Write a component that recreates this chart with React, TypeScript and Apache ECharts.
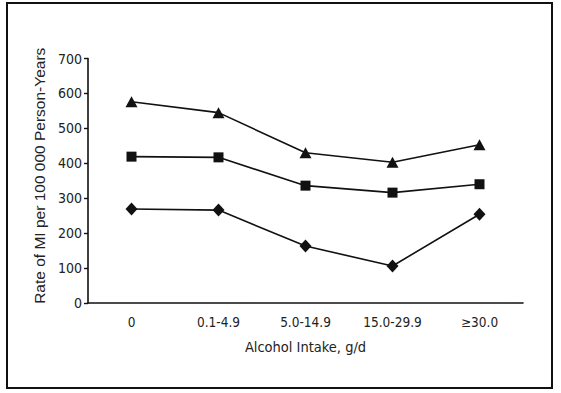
import React, { useEffect, useRef } from "react";
import * as echarts from "echarts";

const categories = ["0", "0.1-4.9", "5.0-14.9", "15.0-29.9", "≥30.0"];
const triangleSeries = [576, 545, 430, 403, 453];
const squareSeries = [419, 417, 336, 316, 340];
const diamondSeries = [269, 266, 163, 106, 254];
const yTicks = { min: 0, max: 700, interval: 100 };

const narrow = "'Liberation Sans Narrow', 'DejaVu Sans Condensed', 'Arial Narrow', sans-serif";
const regular = "'Liberation Sans', Arial, sans-serif";

export default function App() {
  const ref = useRef<HTMLDivElement>(null);
  useEffect(() => {
    document.body.style.margin = "0";
    const chart = echarts.init(ref.current!, null, { renderer: "svg" });
    const lineStyle = { color: "#111", width: 1.6 };
    const mk = (name: string, data: number[], symbol: string, size: any) => ({
      name,
      type: "line",
      data,
      symbol,
      symbolSize: size,
      lineStyle,
      itemStyle: { color: "#111", borderWidth: 0 },
      z: 3,
    });
    chart.setOption({
      animation: false,
      backgroundColor: "#fff",
      grid: { left: 88, top: 58.5, width: 435, height: 244.5, containLabel: false },
      xAxis: {
        type: "category",
        data: categories,
        boundaryGap: true,
        axisLine: { lineStyle: { color: "#111", width: 1.6 } },
        axisTick: { alignWithLabel: true, length: 5, lineStyle: { color: "#111", width: 1.4 } },
        axisLabel: { color: "#222", fontFamily: narrow, fontSize: 13.5, margin: 12 },
        name: "Alcohol Intake, g/d",
        nameLocation: "middle",
        nameGap: 36,
        nameTextStyle: { color: "#222", fontFamily: narrow, fontSize: 14.5 },
      },
      yAxis: {
        type: "value",
        min: yTicks.min,
        max: yTicks.max,
        interval: yTicks.interval,
        splitLine: { show: false },
        axisLine: { show: true, lineStyle: { color: "#111", width: 1.6 } },
        axisTick: { show: true, length: 4, lineStyle: { color: "#111", width: 1.4 } },
        axisLabel: { color: "#222", fontFamily: narrow, fontSize: 14, margin: 6 },
        name: "Rate of MI per 100 000 Person-Years",
        nameLocation: "middle",
        nameGap: 38,
        nameTextStyle: { color: "#222", fontFamily: regular, fontSize: 15.5, padding: [0, 0, 0, 10] },
      },
      series: [
        mk("tri", triangleSeries, "triangle", [12, 11]),
        mk("sq", squareSeries, "rect", 10),
        mk("dia", diamondSeries, "diamond", [12, 13]),
      ],
      graphic: [
        {
          type: "rect",
          shape: { x: 7, y: 3, width: 545, height: 385 },
          style: { fill: "none", stroke: "#111", lineWidth: 2 },
          silent: true,
        },
      ],
    });
    return () => chart.dispose();
  }, []);
  return <div ref={ref} style={{ width: 561, height: 393 }} />;
}
